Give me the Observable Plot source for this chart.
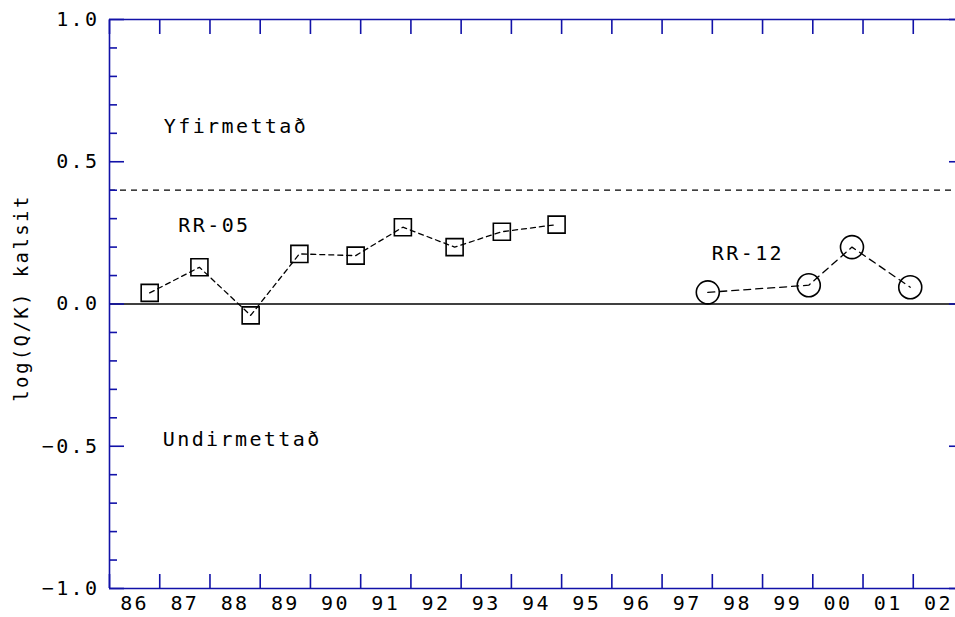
<!DOCTYPE html>
<html>
<head>
<meta charset="utf-8">
<script src="https://cdn.jsdelivr.net/npm/d3@7"></script>
<script src="https://cdn.jsdelivr.net/npm/@observablehq/plot@0.6"></script>
<style>
  html, body { margin: 0; padding: 0; background: #fff; overflow: hidden; }
  svg { max-width: none !important; overflow: hidden !important; }
</style>
</head>
<body>
<div id="chart"></div>
<script>
// Series RR-05 (squares)
const rr05Year = [1986.80, 1987.79, 1988.81, 1989.78, 1990.90, 1991.84, 1992.87, 1993.81, 1994.90];
const rr05Value = [0.039, 0.129, -0.040, 0.176, 0.170, 0.270, 0.200, 0.254, 0.279];
// Series RR-12 (circles)
const rr12Year = [1997.91, 1999.92, 2000.78, 2001.94];
const rr12Value = [0.041, 0.066, 0.200, 0.059];
// Reference levels
const saturationLine = 0.4;
const zeroLine = 0;
// Axis ticks
const xStart = 1986, xEnd = 2003;
const yearBounds = d3.range(xStart, xEnd + 1);
const yearLabels = ["86","87","88","89","90","91","92","93","94","95","96","97","98","99","00","01","02"];
const yMajor = [-1, -0.5, 0, 0.5, 1];
const yMinor = d3.range(-10, 11).map(d => d / 10).filter(d => !yMajor.includes(d));
// Annotations
const noteText = ["Yfirmettað", "Undirmettað", "RR-05", "RR-12"];
const noteYear = [1987.08, 1987.06, 1987.37, 1997.99];
const noteValue = [0.624, -0.476, 0.276, 0.178];

const rr05 = rr05Year.map((x, i) => ({x, y: rr05Value[i]}));
const rr12 = rr12Year.map((x, i) => ({x, y: rr12Value[i]}));
const notes = noteText.map((t, i) => ({t, x: noteYear[i], y: noteValue[i]}));
const labelPos = yearLabels.map((t, i) => ({t, x: xStart + i + 0.5}));

const blue = "#1212a8";
const font = "DejaVu Sans Mono";

const chart = Plot.plot({
  width: 955,
  height: 617,
  marginLeft: 109,
  marginRight: 0,
  marginTop: 19,
  marginBottom: 29,
  x: {domain: [xStart, xEnd], range: [109, 963]},
  y: {domain: [-1, 1]},
  style: {fontFamily: font, fontSize: "20px", letterSpacing: "2.4px", background: "white", color: "black"},
  marks: [
    Plot.ruleY([zeroLine], {stroke: "black", strokeWidth: 1.5}),
    Plot.ruleY([saturationLine], {stroke: "black", strokeWidth: 1.2, strokeDasharray: "6,5"}),
    // frame: left, top, bottom
    Plot.ruleY([-1, 1], {stroke: blue, strokeWidth: 1.6}),
    Plot.ruleX([xStart], {stroke: blue, strokeWidth: 1.6}),
    // x ticks bottom & top (inward)
    Plot.axisX(yearBounds, {anchor: "bottom", tickSize: -14, tickFormat: () => "", stroke: blue, strokeWidth: 1.6, label: null}),
    Plot.axisX(yearBounds, {anchor: "top", tickSize: -14, tickFormat: () => "", stroke: blue, strokeWidth: 1.6, label: null}),
    // x labels
    Plot.text(labelPos, {x: "x", frameAnchor: "bottom", text: "t", textAnchor: "middle", lineAnchor: "top", dy: 7, fill: "black"}),
    // y ticks left & right
    Plot.axisY(yMajor, {anchor: "left", tickSize: -15, tickFormat: () => "", stroke: blue, strokeWidth: 1.6, label: null}),
    Plot.axisY(yMinor, {anchor: "left", tickSize: -8, tickFormat: () => "", stroke: blue, strokeWidth: 1.6, label: null}),
    Plot.axisY(yMajor, {anchor: "right", tickSize: -15, dx: 8, tickFormat: () => "", stroke: blue, strokeWidth: 1.6, label: null}),
    Plot.axisY(yMinor, {anchor: "right", tickSize: -8, dx: 8, tickFormat: () => "", stroke: blue, strokeWidth: 1.6, label: null}),
    // y labels
    Plot.text(yMajor, {y: d => d, frameAnchor: "left", text: d => d3.format(".1f")(d), textAnchor: "end", dx: -10, fill: "black"}),
    // y title
    Plot.text(["log(Q/K) kalsit"], {frameAnchor: "left", textAnchor: "middle", rotate: -90, dx: -88, dy: -6, fill: "black", fontSize: 19, letterSpacing: "2px"}),
    // data
    Plot.line(rr05, {x: "x", y: "y", stroke: "black", strokeWidth: 1.3, strokeDasharray: "5,4"}),
    Plot.dot(rr05, {x: "x", y: "y", symbol: "square", r: 9.6, stroke: "black", strokeWidth: 1.6, fill: "none"}),
    Plot.line(rr12, {x: "x", y: "y", stroke: "black", strokeWidth: 1.3, strokeDasharray: "7,5"}),
    Plot.dot(rr12, {x: "x", y: "y", symbol: "circle", r: 11.5, stroke: "black", strokeWidth: 1.6, fill: "none"}),
    // annotations
    Plot.text(notes, {x: "x", y: "y", text: "t", textAnchor: "start", fill: "black"})
  ]
});
document.getElementById("chart").appendChild(chart);
</script>
</body>
</html>
